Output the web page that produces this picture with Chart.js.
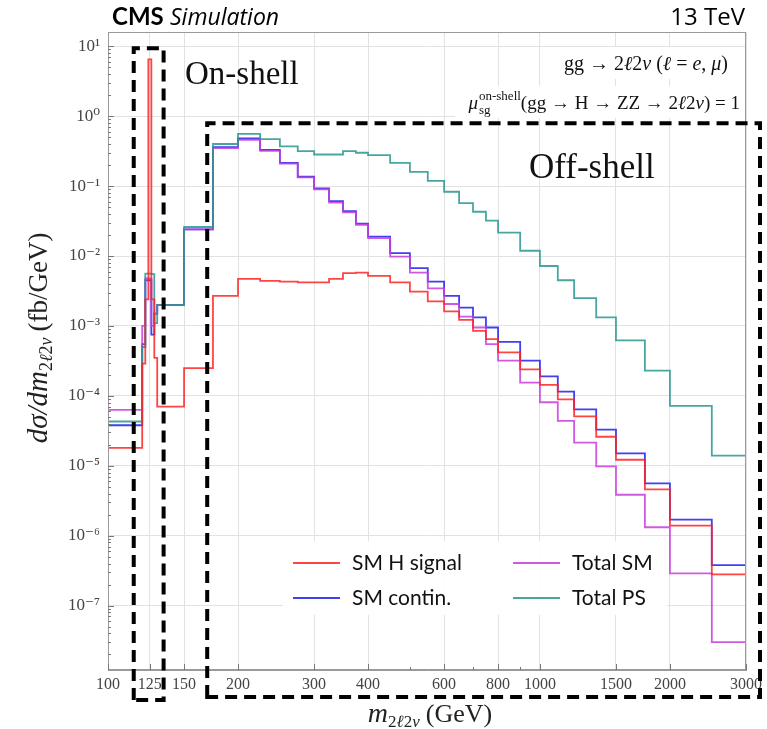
<!DOCTYPE html>
<html><head><meta charset="utf-8">
<script src="https://cdn.jsdelivr.net/npm/chart.js@4/dist/chart.umd.min.js"></script>
<style>html,body{margin:0;padding:0;background:#fff;}canvas{display:block}</style>
</head><body>
<div style="width:767px;height:729px"><canvas id="c" width="767" height="729"></canvas></div>
<script>
// ---- data (bin edges in GeV, dσ/dm in fb/GeV) ----
const binEdges = [100,120,122,124,126,128,130,150,175,200,225,250,275,300,325,350,375,400,450,500,550,600,650,700,750,800,900,1000,1100,1200,1350,1500,1750,2000,2500,3000];
const smSignal = [1.8e-5,2.9e-4,2.4e-3,6.5,2.4e-3,3.5e-4,7e-5,2.5e-4,2.7e-3,4.7e-3,4.4e-3,4.3e-3,4.2e-3,4.2e-3,4.7e-3,5.7e-3,5.8e-3,5.2e-3,4.2e-3,3.1e-3,2.25e-3,1.62e-3,1.22e-3,8.5e-4,6.5e-4,4.2e-4,2.4e-4,1.44e-4,8.9e-5,5.1e-5,2.6e-5,1.22e-5,4.6e-6,1.39e-6,2.8e-7];
const smContin = [3.8e-5,5.5e-4,4.5e-3,4.5e-3,7.5e-4,1.5e-3,2e-3,2.4e-2,0.36,0.48,0.33,0.215,0.136,0.093,0.061,0.044,0.029,0.019,0.011,6.7e-3,4.3e-3,2.7e-3,1.83e-3,1.33e-3,9.5e-4,5.9e-4,3.2e-4,1.9e-4,1.15e-4,6.4e-5,3.3e-5,1.5e-5,5.6e-6,1.7e-6,3.8e-7];
const totalSM  = [6.3e-5,1e-3,4.8e-3,4.8e-3,1e-3,1.5e-3,2e-3,2.4e-2,0.35,0.46,0.32,0.21,0.133,0.09,0.058,0.042,0.028,0.018,0.0098,5.8e-3,3.45e-3,2.06e-3,1.36e-3,9.5e-4,5.5e-4,3.2e-4,1.55e-4,8.1e-5,4.4e-5,2.15e-5,9.8e-6,3.85e-6,1.32e-6,2.9e-7,3.0e-8];
const totalPS  = [4.3e-5,5e-4,5.6e-3,5.6e-3,5.5e-3,1.1e-3,2e-3,2.6e-2,0.40,0.56,0.47,0.37,0.316,0.283,0.283,0.316,0.30,0.277,0.215,0.16,0.119,0.083,0.057,0.043,0.032,0.0216,0.0119,7.2e-3,4.5e-3,2.5e-3,1.33e-3,6.2e-4,2.3e-4,7.2e-5,1.4e-5];
const seriesNames = ['SM H signal','SM contin.','Total SM','Total PS'];
const xTickValues = [100,125,150,200,300,400,600,800,1000,1500,2000,3000];
const yTickExponents = [-7,-6,-5,-4,-3,-2,-1,0,1];

const colors = ['rgba(255,35,35,0.85)','rgba(30,30,235,0.85)','rgba(200,60,220,0.85)','rgba(40,150,145,0.85)'];
const SUP = {'0':'\u2070','1':'\u00B9','2':'\u00B2','3':'\u00B3','4':'\u2074','5':'\u2075','6':'\u2076','7':'\u2077','8':'\u2078','9':'\u2079','-':'\u207B'};
const supStr = n => String(n).split('').map(c=>SUP[c]).join('');

function stepPoints(vals){
  const pts = vals.map((v,i)=>({x:binEdges[i], y:v}));
  const last = binEdges[binEdges.length-1];
  pts.push({x:last, y:vals[vals.length-1]});
  pts.push({x:last, y:1e-12});
  return pts;
}
const allSeries = [smSignal, smContin, totalSM, totalPS];
const datasets = allSeries.map((vals,i)=>({
  label: seriesNames[i], data: stepPoints(vals), stepped: true,
  borderColor: colors[i], borderWidth: 1.8, pointRadius: 0, fill: false,
  order: 4 - i
}));
datasets[0].order = 0; // red drawn on top

const SERIF = '"Liberation Serif", "DejaVu Serif", serif';
const SANS = 'Lato, "Open Sans", "DejaVu Sans", sans-serif';
const OSANS = '"Open Sans", Lato, "DejaVu Sans", sans-serif';

function drawParts(ctx, parts, x, y, align){
  let w = 0;
  parts.forEach(p=>{ctx.font=p.f; w += ctx.measureText(p.t).width + (p.gap||0);});
  let cx = align==='right' ? x-w : (align==='center' ? x-w/2 : x);
  parts.forEach(p=>{ctx.font=p.f; ctx.fillText(p.t, cx, y+(p.dy||0)); cx += ctx.measureText(p.t).width + (p.gap||0);});
  return w;
}

const decor = {
  id:'decor',
  afterDatasetsDraw(chart){
    const ctx = chart.ctx, a = chart.chartArea, xs = chart.scales.x, ys = chart.scales.y;
    ctx.save();
    // frame
    ctx.strokeStyle = '#9a9a9a'; ctx.lineWidth = 1;
    ctx.strokeRect(a.left+0.5, a.top+0.5, a.right-a.left-1, a.bottom-a.top-1);
    // inward ticks
    ctx.strokeStyle = '#777';
    ctx.beginPath();
    for (let d=-8; d<=1; d++){
      for (let k=1;k<=9;k++){
        const v = k*Math.pow(10,d);
        if (v < ys.min || v > ys.max) continue;
        const py = Math.round(ys.getPixelForValue(v))+0.5;
        const len = k===1 ? 6 : 3;
        ctx.moveTo(a.left, py); ctx.lineTo(a.left+len, py);
      }
    }
    xTickValues.forEach(v=>{const px=Math.round(xs.getPixelForValue(v))+0.5; ctx.moveTo(px,a.bottom); ctx.lineTo(px,a.bottom-6);});
    [500,700,900].forEach(v=>{const px=Math.round(xs.getPixelForValue(v))+0.5; ctx.moveTo(px,a.bottom); ctx.lineTo(px,a.bottom-3);});
    ctx.stroke();

    // legend box
    ctx.fillStyle = 'rgba(255,255,255,0.92)';
    ctx.fillRect(283, 541, 384, 74);
    const rows = [[0,2],[1,3]];
    ctx.textBaseline = 'middle'; ctx.textAlign='left';
    const colX = [293, 513], rowY = [563, 598];
    for (let r=0;r<2;r++) for (let c=0;c<2;c++){
      const i = rows[r][c];
      ctx.strokeStyle = colors[i]; ctx.lineWidth = 2.2;
      ctx.beginPath(); ctx.moveTo(colX[c], rowY[r]); ctx.lineTo(colX[c]+47, rowY[r]); ctx.stroke();
      ctx.fillStyle='#111'; ctx.font = '21px '+SANS;
      ctx.fillText(seriesNames[i], colX[c]+59, rowY[r]);
    }

    // annotation text boxes (white background)
    ctx.fillStyle='#fff';
    ctx.fillRect(545, 47, 200, 32);
    ctx.fillRect(455, 86, 290, 32);
    ctx.fillStyle='#111'; ctx.textBaseline='alphabetic';
    const RM = '20px '+SERIF, IT = 'italic 20px '+SERIF;
    drawParts(ctx, [
      {t:'gg \u2192 2', f:RM},{t:'\u2113', f:IT},{t:'2', f:RM},{t:'\u03BD', f:IT},
      {t:' (', f:RM},{t:'\u2113', f:IT},{t:' = ', f:RM},{t:'e', f:IT},{t:', ', f:RM},{t:'\u03BC', f:IT},{t:')', f:RM}
    ], 728, 70, 'right');
    // mu line
    const RM2 = '19px '+SERIF, IT2 = 'italic 19px '+SERIF;
    const restParts = [
      {t:'(gg \u2192 H \u2192 ZZ \u2192 2', f:RM2},{t:'\u2113', f:IT2},{t:'2', f:RM2},{t:'\u03BD', f:IT2},{t:') = 1', f:RM2}
    ];
    let wRest = 0; restParts.forEach(p=>{ctx.font=p.f; wRest += ctx.measureText(p.t).width;});
    ctx.font = '13px '+SERIF; const wSup = ctx.measureText('on-shell').width;
    ctx.font = IT2; const wMu = ctx.measureText('\u03BC').width;
    const right = 740, baseY = 109;
    let sx = right - wRest - wSup - wMu - 1;
    ctx.font = IT2; ctx.fillText('\u03BC', sx, baseY);
    ctx.font = '13px '+SERIF; ctx.fillText('on-shell', sx+wMu+1, baseY-9);
    ctx.fillText('sg', sx+wMu+1, baseY+5);
    drawParts(ctx, restParts, right, baseY, 'right');

    // On-shell / Off-shell labels
    ctx.font = '33px '+SERIF; ctx.fillStyle='#111';
    ctx.fillText('On-shell', 185, 84);
    ctx.font = '35px '+SERIF;
    ctx.fillText('Off-shell', 529, 178);

    // dashed boxes
    ctx.strokeStyle='#000'; ctx.lineWidth=4; ctx.setLineDash([12,7]); ctx.lineCap='butt';
    const bx1 = xs.getPixelForValue(114.7), bx2 = xs.getPixelForValue(134.5), by1 = ys.getPixelForValue(9.4);
    ctx.beginPath(); ctx.moveTo(bx1, 700); ctx.lineTo(bx1, by1); ctx.lineTo(bx2, by1); ctx.lineTo(bx2, 700); ctx.closePath(); ctx.stroke();
    const ox1 = xs.getPixelForValue(169.7), oy1 = ys.getPixelForValue(0.79);
    ctx.beginPath(); ctx.moveTo(ox1, 697); ctx.lineTo(ox1, oy1); ctx.lineTo(760, oy1); ctx.lineTo(760, 697); ctx.closePath(); ctx.stroke();
    ctx.setLineDash([]);

    // header
    ctx.fillStyle='#000'; ctx.textAlign='left';
    ctx.font = 'bold 24px '+SANS; ctx.fillText('CMS', 112, 25);
    ctx.font = 'italic 23px '+OSANS; ctx.fillText('Simulation', 170, 25);
    ctx.textAlign='right'; ctx.font = '24px '+OSANS; ctx.fillText('13 TeV', 745, 25);

    // axis titles
    ctx.textAlign='left'; ctx.fillStyle='#222';
    drawParts(ctx, [
      {t:'m', f:'italic 28px '+SERIF},{t:'2', f:'17px '+SERIF, dy:5},{t:'\u2113', f:'italic 17px '+SERIF, dy:5},{t:'2', f:'17px '+SERIF, dy:5},{t:'\u03BD', f:'italic 17px '+SERIF, dy:5, gap:6},
      {t:'(GeV)', f:'26px '+SERIF}
    ], 430, 722, 'center');
    ctx.save(); ctx.translate(47, 338); ctx.rotate(-Math.PI/2);
    drawParts(ctx, [
      {t:'d\u03C3/dm', f:'italic 29px '+SERIF},{t:'2', f:'18px '+SERIF, dy:5},{t:'\u2113', f:'italic 18px '+SERIF, dy:5},{t:'2', f:'18px '+SERIF, dy:5},{t:'\u03BD', f:'italic 18px '+SERIF, dy:5, gap:6},
      {t:'(fb/GeV)', f:'27px '+SERIF}
    ], 0, 0, 'center');
    ctx.restore();
    ctx.restore();
  }
};

new Chart(document.getElementById('c'), {
  type:'line',
  data:{datasets},
  options:{
    responsive:false, animation:false, devicePixelRatio:1,
    layout:{padding:{left:0,right:16,top:32,bottom:0}},
    plugins:{legend:{display:false}, tooltip:{enabled:false}},
    elements:{point:{radius:0}, line:{tension:0}},
    scales:{
      x:{type:'logarithmic', min:100, max:3000,
        afterBuildTicks: s=>{ s.ticks = xTickValues.map(v=>({value:v})); },
        afterFit: s=>{ s.height = 59; },
        ticks:{autoSkip:false, maxRotation:0, padding:5, color:'#444', font:{family:SERIF, size:16},
          callback: v => String(v)},
        grid:{color:'#e2e2e2', drawTicks:false},
        border:{color:'#9a9a9a'}
      },
      y:{type:'logarithmic', min:1.2e-8, max:16,
        afterBuildTicks: s=>{ s.ticks = yTickExponents.map(e=>({value:Math.pow(10,e)})); },
        afterFit: s=>{ s.width = 108; },
        ticks:{autoSkip:false, padding:8, color:'#444', font:{family:SERIF, size:17},
          callback: v => '10' + supStr(Math.round(Math.log10(v)))},
        grid:{color:'#e2e2e2', drawTicks:false},
        border:{color:'#9a9a9a'}
      }
    }
  },
  plugins:[decor]
});
</script>
</body></html>
